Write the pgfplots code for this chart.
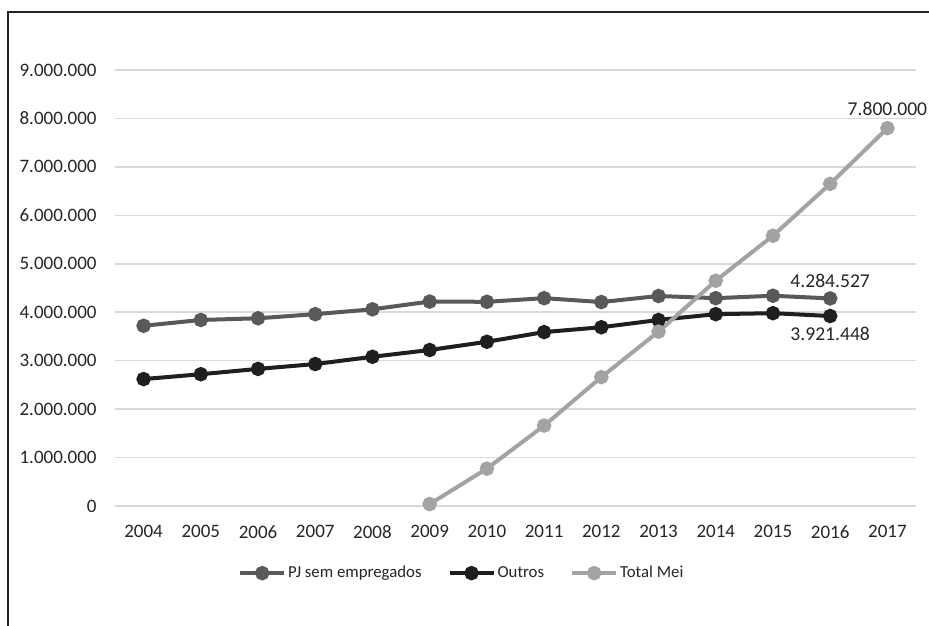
\documentclass[border=0pt]{standalone}
\usepackage{fontspec}
\setmainfont{Carlito}
\usepackage{pgfplots}
\pgfplotsset{compat=1.18}
\usepackage{pgfplotstable}
\definecolor{pjcol}{HTML}{595959}
\definecolor{outcol}{HTML}{1F1F1F}
\definecolor{meicol}{HTML}{A3A3A3}
\definecolor{gridcol}{HTML}{D9D9D9}
\definecolor{framecol}{HTML}{222222}
\pgfplotstableread{
year value
2004 3720000
2005 3840000
2006 3875000
2007 3960000
2008 4060000
2009 4220000
2010 4215000
2011 4290000
2012 4210000
2013 4335000
2014 4290000
2015 4340000
2016 4284527
}\pjtable
\pgfplotstableread{
year value
2004 2620000
2005 2720000
2006 2830000
2007 2930000
2008 3080000
2009 3220000
2010 3390000
2011 3590000
2012 3690000
2013 3840000
2014 3960000
2015 3980000
2016 3921448
}\outrostable
\pgfplotstableread{
year value
2009 40000
2010 771000
2011 1660000
2012 2660000
2013 3600000
2014 4650000
2015 5580000
2016 6650000
2017 7800000
}\meitable
\begin{document}
\begin{tikzpicture}
\useasboundingbox (0,0) rectangle (464.5pt,312.5pt);
\fill[white] (0,0) rectangle (464.5pt,312.5pt);
% frame (left and top edges visible)
\draw[framecol, line width=1.1pt] (4pt,-2pt) -- (4pt,306.5pt) -- (470pt,306.5pt);
\begin{axis}[
  at={(57.5pt,59.5pt)}, anchor=south west,
  scale only axis,
  width=400.5pt, height=218pt,
  xmin=2003.5, xmax=2017.5,
  ymin=0, ymax=9000000,
  scaled y ticks=false,
  xtick={2004,2005,2006,2007,2008,2009,2010,2011,2012,2013,2014,2015,2016,2017},
  xticklabels={2004,2005,2006,2007,2008,2009,2010,2011,2012,2013,2014,2015,2016,2017},
  ytick={0,1000000,2000000,3000000,4000000,5000000,6000000,7000000,8000000,9000000},
  yticklabels={0,1.000.000,2.000.000,3.000.000,4.000.000,5.000.000,6.000.000,7.000.000,8.000.000,9.000.000},
  major tick length=0pt,
  axis line style={draw=none},
  ymajorgrids,
  grid style={gridcol, line width=0.75pt},
  ticklabel style={font=\fontsize{9.5pt}{11pt}\selectfont, text=black!85},
  yticklabel style={anchor=east, inner xsep=0pt, xshift=-9pt},
  xticklabel style={anchor=north, inner ysep=0pt, yshift=-9.5pt},
  clip=false,
  legend columns=3,
  legend style={at={(0.433,-0.154)}, anchor=center, draw=none, fill=none,
    font=\fontsize{8.4pt}{10pt}\selectfont, text=black!85,
    column sep=0pt,
    nodes={inner xsep=1pt}},
  legend image code/.code={\draw[#1, mark repeat=2, mark phase=2] plot coordinates {(0pt,0pt) (11pt,0pt) (22pt,0pt)};},
]
\addplot[pjcol, line width=2pt, mark=*, mark size=2.6pt, mark options={fill=pjcol, draw=pjcol}] table[x=year,y=value] {\pjtable};
\addlegendentry{PJ sem empregados\rule{12pt}{0pt}}
\addplot[outcol, line width=2pt, mark=*, mark size=2.6pt, mark options={fill=outcol, draw=outcol}] table[x=year,y=value] {\outrostable};
\addlegendentry{Outros\rule{12pt}{0pt}}
\addplot[meicol, line width=2pt, mark=*, mark size=2.6pt, mark options={fill=meicol, draw=meicol}] table[x=year,y=value] {\meitable};
\addlegendentry{Total Mei}
\node[font=\fontsize{9.8pt}{11pt}\selectfont, text=black!85, anchor=south] at (axis cs:2017,7800000) [yshift=2.5pt] {7.800.000};
\node[font=\fontsize{9.8pt}{11pt}\selectfont, text=black!85, anchor=south] at (axis cs:2016,4284527) [yshift=2pt] {4.284.527};
\node[font=\fontsize{9.8pt}{11pt}\selectfont, text=black!85, anchor=north] at (axis cs:2016,3921448) [yshift=-2pt] {3.921.448};
\end{axis}
\end{tikzpicture}
\end{document}
